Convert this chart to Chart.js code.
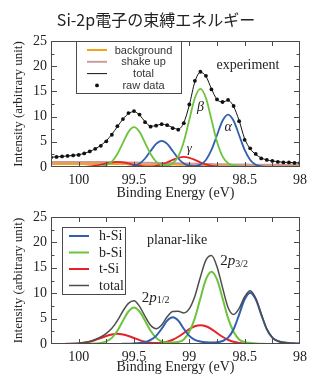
<!DOCTYPE html>
<html>
<head>
<meta charset="utf-8">
<script src="https://cdn.jsdelivr.net/npm/chart.js@4.4.1/dist/chart.umd.min.js"></script>
<style>
  html, body { margin: 0; padding: 0; background: #fff; }
  #wrap { position: relative; width: 312px; height: 376px; overflow: hidden; }
  #title {
    position: absolute; left: 0; top: 9px; width: 312px; line-height: 20px;
    text-align: center; font-family: "Noto Sans CJK JP", "Noto Sans", sans-serif;
    font-size: 16px; color: #222; z-index: 2;
  }
  #c1 { position: absolute; left: 0; top: 0; }
  #c2 { position: absolute; left: 0; top: 202px; }
</style>
</head>
<body>
<div id="wrap">
  <div id="title">Si-2p電子の束縛エネルギー</div>
  <canvas id="c1" width="312" height="202"></canvas>
  <canvas id="c2" width="312" height="174"></canvas>
</div>
<script>
// ---- data ----
const energy = [100.25, 100.2, 100.15, 100.1, 100.05, 100, 99.95, 99.9, 99.85, 99.8,
  99.75, 99.7, 99.65, 99.6, 99.55, 99.5, 99.45, 99.4, 99.35, 99.3,
  99.25, 99.2, 99.15, 99.1, 99.05, 99, 98.95, 98.9, 98.85, 98.8,
  98.75, 98.7, 98.65, 98.6, 98.55, 98.5, 98.45, 98.4, 98.35, 98.3,
  98.25, 98.2, 98.15, 98.1, 98.05, 98];

const xTickLabels = [100, 99.5, 99, 98.5, 98];
const xMinorTicks = [100, 99.75, 99.5, 99.25, 99, 98.75, 98.5, 98.25];
const yTickLabels = [0, 5, 10, 15, 20, 25];
const yMinorTicks = [2.5, 7.5, 12.5, 17.5, 22.5];

// top panel: experiment
const expRaw = [1.9, 2.0, 2.1, 2.2, 2.3, 2.4, 2.7, 3.1, 3.6, 4.2,
  5.1, 6.4, 8.1, 9.5, 10.7, 11.1, 10.4, 8.9, 8.0, 8.2,
  8.5, 8.3, 7.7, 7.4, 8.7, 12.4, 17.1, 18.9, 18.1, 15.4,
  13.4, 12.9, 13.3, 12.1, 9.1, 5.4, 3.7, 2.6, 1.7, 1.4,
  1.2, 1.0, 0.9, 0.9, 0.8, 0.8];
const expTotal = [1.95, 2.0, 2.1, 2.2, 2.3, 2.45, 2.7, 3.1, 3.6, 4.3,
  5.2, 6.5, 8.0, 9.5, 10.6, 11.0, 10.3, 9.0, 8.1, 8.2,
  8.5, 8.3, 7.8, 7.5, 8.8, 12.3, 16.9, 18.8, 18.0, 15.5,
  13.4, 12.9, 13.2, 12.0, 9.2, 5.6, 3.6, 2.5, 1.8, 1.4,
  1.2, 1.05, 0.95, 0.9, 0.85, 0.8];
const expGreen = [0, 0, 0, 0, 0, 0, 0, 0, 0.02, 0.1,
  0.35, 1.07, 2.57, 4.8, 6.97, 7.9, 6.97, 4.8, 2.57, 1.07,
  0.45, 0.35, 0.75, 2.1, 5.0, 9.4, 13.7, 15.5, 13.7, 9.4,
  5.0, 2.1, 0.75, 0.3, 0.12, 0.05, 0, 0, 0, 0,
  0, 0, 0, 0, 0, 0];
const expBlue = [0, 0, 0, 0, 0, 0, 0, 0, 0, 0,
  0, 0, 0, 0.01, 0.06, 0.23, 0.7, 1.69, 3.16, 4.59,
  5.2, 4.59, 3.16, 1.69, 0.7, 0.25, 0.17, 0.47, 1.4, 3.38,
  6.31, 9.17, 10.4, 9.17, 6.31, 3.38, 1.4, 0.46, 0.11, 0.02,
  0, 0, 0, 0, 0, 0];
const expRed = [0, 0, 0, 0, 0, 0.01, 0.04, 0.11, 0.25, 0.46,
  0.71, 0.92, 1.0, 0.92, 0.71, 0.46, 0.26, 0.14, 0.13, 0.24,
  0.5, 0.92, 1.41, 1.83, 2.0, 1.83, 1.41, 0.92, 0.5, 0.23,
  0.09, 0.03, 0.01, 0, 0, 0, 0, 0, 0, 0,
  0, 0, 0, 0, 0, 0];
const expBackground = [0.62, 0.62, 0.62, 0.62, 0.62, 0.62, 0.62, 0.62, 0.62, 0.62,
  0.62, 0.61, 0.6, 0.59, 0.57, 0.55, 0.53, 0.52, 0.51, 0.5,
  0.5, 0.49, 0.48, 0.47, 0.46, 0.44, 0.42, 0.4, 0.38, 0.37,
  0.36, 0.35, 0.35, 0.35, 0.35, 0.35, 0.35, 0.35, 0.35, 0.35,
  0.35, 0.35, 0.35, 0.35, 0.35, 0.35];
const expShakeUp = [1.0, 1.0, 1.0, 1.0, 1.0, 1.0, 1.0, 1.0, 1.0, 0.99,
  0.98, 0.96, 0.94, 0.92, 0.9, 0.88, 0.86, 0.84, 0.82, 0.8,
  0.78, 0.76, 0.74, 0.72, 0.7, 0.68, 0.65, 0.62, 0.6, 0.58,
  0.56, 0.54, 0.52, 0.5, 0.49, 0.48, 0.47, 0.46, 0.46, 0.45,
  0.45, 0.45, 0.45, 0.45, 0.45, 0.45];

// bottom panel: planar-like
const hSi = [0, 0, 0, 0, 0, 0, 0, 0, 0, 0,
  0, 0, 0, 0.03, 0.06, 0.12, 0.2, 0.35, 0.8, 1.6,
  3.0, 4.6, 5.25, 4.6, 3.0, 1.6, 0.8, 0.5, 0.35, 0.3,
  0.35, 0.6, 1.25, 2.9, 5.8, 8.8, 10.1, 8.8, 5.8, 2.9,
  1.25, 0.55, 0.3, 0.18, 0.12, 0.08];
const bSi = [0, 0, 0, 0, 0, 0, 0, 0.05, 0.1, 0.2,
  0.5, 1.2, 2.6, 4.6, 6.4, 7.2, 6.4, 4.6, 2.6, 1.2,
  0.5, 0.3, 0.3, 0.4, 0.9, 2.4, 5.1, 9.0, 12.7, 14.2,
  12.7, 9.0, 5.1, 2.4, 0.9, 0.35, 0.2, 0.1, 0.05, 0,
  0, 0, 0, 0, 0, 0];
const tSi = [0, 0.01, 0.01, 0.02, 0.04, 0.11, 0.23, 0.45, 0.77, 1.17,
  1.58, 1.88, 2.0, 1.88, 1.58, 1.17, 0.77, 0.46, 0.26, 0.19,
  0.24, 0.45, 0.84, 1.43, 2.16, 2.92, 3.49, 3.7, 3.49, 2.92,
  2.16, 1.43, 0.84, 0.43, 0.2, 0.08, 0.03, 0.01, 0, 0,
  0, 0, 0, 0, 0, 0];
const planarTotal = [0.05, 0.06, 0.07, 0.08, 0.1, 0.15, 0.28, 0.5, 0.88, 1.4,
  2.1, 3.1, 4.6, 6.5, 8.0, 8.5, 7.4, 5.45, 3.7, 3.0,
  3.75, 5.35, 6.4, 6.45, 6.1, 6.95, 9.4, 13.2, 16.5, 17.4,
  15.2, 11.1, 7.2, 5.8, 7.0, 9.3, 10.5, 9.0, 5.9, 2.95,
  1.3, 0.6, 0.33, 0.2, 0.14, 0.1];

// ---- styling ----
const SERIF = '"Liberation Serif", "DejaVu Serif", serif';
const SANS = '"Liberation Sans", Arial, sans-serif';
const FRAME = '#4a4a4a';
const TEXT = '#222';
Chart.defaults.font.family = SERIF;

const pts = arr => energy.map((e, i) => ({ x: e, y: arr[i] }));

// inward ticks, frame, legend box and text notes
const panelDecor = {
  id: 'panelDecor',
  afterDatasetsDraw(chart, args, opts) {
    const { ctx, chartArea: a, scales: { x, y } } = chart;
    ctx.save();
    ctx.strokeStyle = FRAME;
    ctx.lineWidth = 1;
    const seg = (x1, y1, x2, y2) => { ctx.beginPath(); ctx.moveTo(x1, y1); ctx.lineTo(x2, y2); ctx.stroke(); };

    ctx.strokeRect(a.left + 0.5, a.top + 0.5, a.right - a.left - 1, a.bottom - a.top - 1);
    xMinorTicks.forEach(v => {
      const px = Math.round(x.getPixelForValue(v)) + 0.5;
      seg(px, a.bottom, px, a.bottom - 5);
      seg(px, a.top, px, a.top + 5);
    });
    yTickLabels.slice(1, -1).forEach(v => {
      const py = Math.round(y.getPixelForValue(v)) + 0.5;
      seg(a.left, py, a.left + 6, py);
      seg(a.right, py, a.right - 6, py);
    });
    yMinorTicks.forEach(v => {
      const py = Math.round(y.getPixelForValue(v)) + 0.5;
      seg(a.left, py, a.left + 3.5, py);
      seg(a.right, py, a.right - 3.5, py);
    });

    // legend
    const lg = opts.legend;
    const bx = Math.round(a.left + lg.dx), by = Math.round(a.top + lg.dy);
    ctx.fillStyle = '#fff';
    ctx.fillRect(bx, by, lg.w, lg.h);
    ctx.strokeStyle = FRAME;
    ctx.strokeRect(bx + 0.5, by + 0.5, lg.w, lg.h);
    ctx.font = lg.font;
    ctx.textBaseline = 'middle';
    lg.items.forEach((name, i) => {
      const ds = chart.data.datasets.find(d => d.label === name);
      const yy = by + lg.firstRow + i * lg.rowGap;
      if (ds.showLine === false) {
        ctx.fillStyle = ds.pointBackgroundColor;
        ctx.beginPath();
        ctx.arc(bx + (lg.lineX1 + lg.lineX2) / 2, yy, 1.9, 0, Math.PI * 2);
        ctx.fill();
      } else {
        ctx.strokeStyle = ds.borderColor;
        ctx.lineWidth = ds.borderWidth;
        seg(bx + lg.lineX1, yy, bx + lg.lineX2, yy);
      }
      ctx.fillStyle = lg.color;
      ctx.textAlign = lg.align;
      ctx.fillText(name, bx + lg.textX, yy + 0.5);
    });

    // notes
    opts.notes.forEach(n => {
      let px = x.getPixelForValue(n.x);
      const py = y.getPixelForValue(n.y);
      ctx.fillStyle = TEXT;
      ctx.textBaseline = 'middle';
      if (n.parts) {
        ctx.textAlign = 'left';
        n.parts.forEach(p => {
          ctx.font = p.font;
          ctx.fillText(p.t, px, py + (p.dy || 0));
          px += ctx.measureText(p.t).width;
        });
      } else {
        ctx.textAlign = 'center';
        ctx.font = n.font;
        ctx.fillText(n.text, px, py);
      }
    });
    ctx.restore();
  }
};

function panelOptions(padTop, xAxisHeight, decor) {
  return {
    responsive: false,
    animation: false,
    layout: { padding: { top: padTop, right: 8, left: 0, bottom: 0 } },
    elements: {
      point: { radius: 0 },
      line: { cubicInterpolationMode: 'monotone', fill: false }
    },
    plugins: { legend: { display: false }, tooltip: { enabled: false }, panelDecor: decor },
    scales: {
      x: {
        type: 'linear', reverse: true, min: 98, max: 100.25,
        afterBuildTicks: s => { s.ticks = xTickLabels.map(v => ({ value: v })); },
        afterFit: s => { s.height = xAxisHeight; },
        grid: { display: false, drawTicks: false },
        border: { display: false },
        ticks: { padding: 5, color: TEXT, font: { family: SERIF, size: 14 }, callback: v => String(v) },
        title: { display: true, text: 'Binding Energy (eV)', color: TEXT,
                 font: { family: SERIF, size: 14, lineHeight: 1 }, padding: { top: 0, bottom: 2 } }
      },
      y: {
        min: 0, max: 25,
        afterBuildTicks: s => { s.ticks = yTickLabels.map(v => ({ value: v })); },
        afterFit: s => { s.width = 51; },
        grid: { display: false, drawTicks: false },
        border: { display: false },
        ticks: { padding: 4, color: TEXT, font: { family: SERIF, size: 14 }, callback: v => String(v) },
        title: { display: true, text: 'Intensity (arbitrary unit)', color: TEXT,
                 font: { family: SERIF, size: 13, lineHeight: 1 }, padding: { top: 12, bottom: 0 } }
      }
    }
  };
}

// ---- top panel ----
new Chart(document.getElementById('c1'), {
  type: 'line',
  data: {
    datasets: [
      { label: 'raw data', data: pts(expRaw), showLine: false, pointRadius: 1.9,
        pointBackgroundColor: '#111', pointBorderWidth: 0, borderColor: '#111' },
      { label: 'total', data: pts(expTotal), borderColor: '#111', borderWidth: 1 },
      { label: 'β', data: pts(expGreen), borderColor: '#6cc43c', borderWidth: 1.8 },
      { label: 'α', data: pts(expBlue), borderColor: '#2f5fae', borderWidth: 1.8 },
      { label: 'γ', data: pts(expRed), borderColor: '#e8202a', borderWidth: 1.8 },
      { label: 'shake up', data: pts(expShakeUp), borderColor: '#c99c9c', borderWidth: 2 },
      { label: 'background', data: pts(expBackground), borderColor: '#f6a21c', borderWidth: 2 }
    ]
  },
  options: panelOptions(41, 35, {
    legend: {
      dx: 25, dy: 0, w: 105, h: 52, firstRow: 9, rowGap: 11.8,
      lineX1: 11, lineX2: 31, textX: 67.5, align: 'center',
      font: '11px ' + SANS, color: '#333',
      items: ['background', 'shake up', 'total', 'raw data']
    },
    notes: [
      { text: 'experiment', x: 98.47, y: 20.2, font: '14px ' + SERIF },
      { text: 'β', x: 98.9, y: 11.9, font: 'italic 14px ' + SERIF },
      { text: 'α', x: 98.65, y: 7.9, font: 'italic 14px ' + SERIF },
      { text: 'γ', x: 99.0, y: 3.6, font: 'italic 13px ' + SERIF }
    ]
  }),
  plugins: [panelDecor]
});

// ---- bottom panel ----
new Chart(document.getElementById('c2'), {
  type: 'line',
  data: {
    datasets: [
      { label: 'total', data: pts(planarTotal), borderColor: '#4d4d4d', borderWidth: 1.5 },
      { label: 'h-Si', data: pts(hSi), borderColor: '#2f5fae', borderWidth: 2 },
      { label: 'b-Si', data: pts(bSi), borderColor: '#6cc43c', borderWidth: 2 },
      { label: 't-Si', data: pts(tSi), borderColor: '#e8202a', borderWidth: 2 }
    ]
  },
  options: panelOptions(15, 32, {
    legend: {
      dx: 11, dy: 10, w: 63, h: 67, firstRow: 9, rowGap: 16.5,
      lineX1: 7, lineX2: 27, textX: 37, align: 'left',
      font: '14px ' + SERIF, color: TEXT,
      items: ['h-Si', 'b-Si', 't-Si', 'total']
    },
    notes: [
      { text: 'planar-like', x: 99.11, y: 20.5, font: '14px ' + SERIF },
      { x: 98.72, y: 16.3, parts: [
        { t: '2', font: '15px ' + SERIF }, { t: 'p', font: 'italic 15px ' + SERIF },
        { t: '3/2', font: '10px ' + SERIF, dy: 3 } ] },
      { x: 99.43, y: 9.1, parts: [
        { t: '2', font: '15px ' + SERIF }, { t: 'p', font: 'italic 15px ' + SERIF },
        { t: '1/2', font: '10px ' + SERIF, dy: 3 } ] }
    ]
  }),
  plugins: [panelDecor]
});
</script>
</body>
</html>
